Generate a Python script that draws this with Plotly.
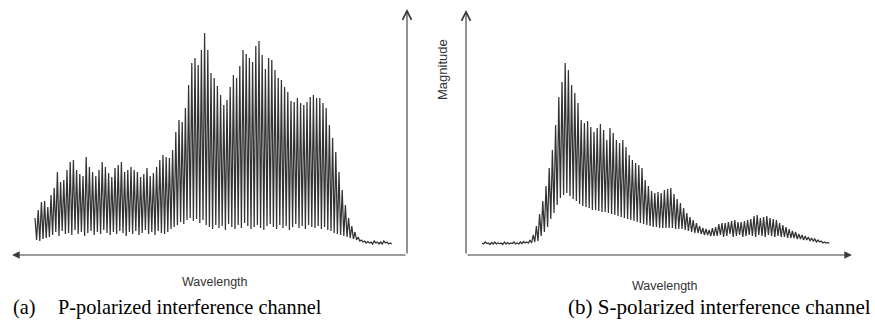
import plotly.graph_objects as go

# ---------------- data (magnitude, arbitrary units; fringe index along wavelength) ----------------
# Panel (a): P-polarized interference channel - fringe maxima / minima
peaks_a = [37, 45, 53, 54, 48, 60, 67, 83, 73, 75,
           85, 93, 95, 85, 81, 79, 98, 88, 83, 79,
           85, 93, 88, 82, 78, 87, 90, 93, 83, 85,
           88, 85, 83, 78, 81, 87, 79, 82, 88, 95,
           100, 98, 97, 105, 123, 135, 133, 147, 170, 192,
           197, 190, 205, 222, 205, 182, 177, 169, 160, 150,
           155, 168, 180, 177, 189, 205, 201, 197, 193, 209,
           214, 200, 186, 197, 195, 185, 177, 175, 168, 163,
           154, 153, 157, 152, 150, 153, 158, 160, 157, 157,
           152, 147, 130, 117, 103, 83, 65, 50, 37, 29,
           23, 18, 15, 14, 13.5,
           13, 14, 13, 13, 14, 13, 12]
troughs_a = [15, 14, 16, 17, 18,
             20, 23, 19, 24, 21, 22, 20, 25, 21, 23, 19, 22, 24, 20, 23, 21, 25, 22, 20, 23,
             21, 24, 22, 19, 23, 21, 24, 20, 22, 25, 21, 23, 20, 24, 22, 21, 23, 26,
             28, 30, 33, 31, 35, 37, 34, 36, 32, 35, 30,
             28, 26, 30, 27, 29, 25, 31, 28, 26, 30, 27, 32, 29, 26, 28, 30, 27, 25, 29,
             31, 28, 26, 30, 27, 29, 25, 28, 31, 27, 29, 26, 30, 28, 27, 29, 26, 28, 25,
             24, 22, 21, 20, 19, 18, 17, 16, 15,
             14, 13, 12, 12, 11, 12, 11, 11, 12, 11, 11]

# Panel (b): S-polarized interference channel - fringe maxima / minima
peaks_b = [12, 13, 12, 12.5, 13, 12, 12, 13, 12.5, 12, 13, 12, 13, 13.5,
           13, 15, 20, 29, 41, 54, 69, 87, 105, 130,
           158, 173, 192, 185, 170, 162, 152, 135, 132, 134,
           128, 123, 127, 131, 125, 115, 127, 122, 115, 112,
           115, 108, 100, 95, 92, 90, 87, 75, 69, 64,
           62, 63, 62, 65, 66, 67, 61, 56, 52, 47,
           42, 38, 35, 32, 29, 27, 26, 25, 27, 28,
           31, 32, 32, 33, 34, 35, 33, 33, 34, 35,
           36, 39, 40, 37, 38, 39, 37, 36, 35, 32,
           30, 28, 26, 24, 23, 21, 20, 19, 18, 17,
           16, 15, 14, 13, 12.5]
troughs_b = [11, 11.5, 10.5, 11, 11, 11.5, 10.5, 11, 11, 11.5, 11, 11, 11.5, 12,
             12, 12, 13, 14, 19, 23, 28, 36, 42, 50,
             57, 60, 62, 59, 56, 54, 51, 49, 48, 47,
             45, 45, 44, 43, 43, 42, 41, 40, 39, 38,
             37, 36, 35, 34, 33, 32, 31, 30, 29, 28,
             28, 27, 27, 27, 27, 27, 26, 26, 26, 25,
             24, 23, 22, 22, 21, 20, 20, 19, 19, 19,
             20, 18, 19, 21, 18, 19, 20, 18, 19, 20,
             19, 18, 20, 19, 18, 20, 19, 18, 19, 18,
             18, 17, 17, 17, 16, 16, 15, 15, 14, 14,
             13, 13, 12, 12, 11.5]

x_label = "Wavelength"
y_label = "Magnitude"
caption_a_tag = "(a)"
caption_a_text = "P-polarized interference channel"
caption_b = "(b) S-polarized interference channel"

# ---------------- build traces ----------------
def zigzag(peaks, troughs):
    xs, ys = [], []
    for i, (p, t) in enumerate(zip(peaks, troughs)):
        xs += [i, i + 0.5]
        ys += [p, t]
    return xs, ys

W, H = 875, 324
line_col = "#333333"
axis_col = "#3a3a3a"

xa, ya = zigzag(peaks_a, troughs_a)
xb, yb = zigzag(peaks_b, troughs_b)

fig = go.Figure()
fig.add_trace(go.Scatter(x=xa, y=ya, mode="lines", xaxis="x", yaxis="y",
                         line=dict(color=line_col, width=1.25), hoverinfo="skip"))
fig.add_trace(go.Scatter(x=xb, y=yb, mode="lines", xaxis="x2", yaxis="y2",
                         line=dict(color=line_col, width=1.25), hoverinfo="skip"))

step = 3.2  # pixels per fringe
def px(p):
    return p / W
def py(p):
    return 1 - p / H

ax_common = dict(visible=False, showgrid=False, zeroline=False, fixedrange=True)
fig.update_layout(
    width=W, height=H,
    margin=dict(l=0, r=0, t=0, b=0),
    paper_bgcolor="white", plot_bgcolor="white",
    showlegend=False,
    xaxis=dict(domain=[px(12), px(407)], range=[(12 - 35) / step, (407 - 35) / step], **ax_common),
    yaxis=dict(domain=[py(255), py(9)], range=[0, 246], anchor="x", **ax_common),
    xaxis2=dict(domain=[px(466), px(852)], range=[(466 - 482) / step, (852 - 482) / step],
                anchor="y2", **ax_common),
    yaxis2=dict(domain=[py(255), py(10)], range=[0, 245], anchor="x2", **ax_common),
)

def arrow(x_tip, y_tip, ax, ay, head):
    fig.add_annotation(x=px(x_tip), y=py(y_tip), xref="paper", yref="paper",
                       ax=ax, ay=ay, text="", showarrow=True,
                       arrowhead=head, arrowsize=1.4 if head in (2, 3) else 1.6,
                       arrowwidth=1.1, arrowcolor=axis_col, standoff=0, startstandoff=0)

# panel (a) axes: left-pointing wavelength arrow, vertical magnitude arrow at right
arrow(12, 255, 395, 0, 2)
arrow(407, 9, 0, 246, 5)
# panel (b) axes
arrow(466, 10, 0, 245, 5)
arrow(852, 255, -386, 0, 2)

lab_font = dict(family="Liberation Sans, Arial, sans-serif", size=12.5, color="#333333")
fig.add_annotation(x=px(215), y=py(282), xref="paper", yref="paper", text=x_label,
                   showarrow=False, font=lab_font, xanchor="center", yanchor="middle")
fig.add_annotation(x=px(665), y=py(286), xref="paper", yref="paper", text=x_label,
                   showarrow=False, font=lab_font, xanchor="center", yanchor="middle")
fig.add_annotation(x=px(443), y=py(70), xref="paper", yref="paper", text=y_label,
                   showarrow=False, font=dict(lab_font, size=13), textangle=-90,
                   xanchor="center", yanchor="middle")

cap_font = dict(family="Liberation Serif, Times New Roman, serif", size=20.3, color="#000000")
fig.add_annotation(x=px(11), y=py(307), xref="paper", yref="paper", text=caption_a_tag,
                   showarrow=False, font=cap_font, xanchor="left", yanchor="middle")
fig.add_annotation(x=px(56), y=py(307), xref="paper", yref="paper", text=caption_a_text,
                   showarrow=False, font=cap_font, xanchor="left", yanchor="middle")
fig.add_annotation(x=px(566), y=py(307), xref="paper", yref="paper", text=caption_b,
                   showarrow=False, font=dict(cap_font, size=21), xanchor="left", yanchor="middle")

fig.write_html("out.html", config={"displayModeBar": False, "staticPlot": True},
               post_script="document.body.style.margin='0px';document.body.style.overflow='hidden';")
